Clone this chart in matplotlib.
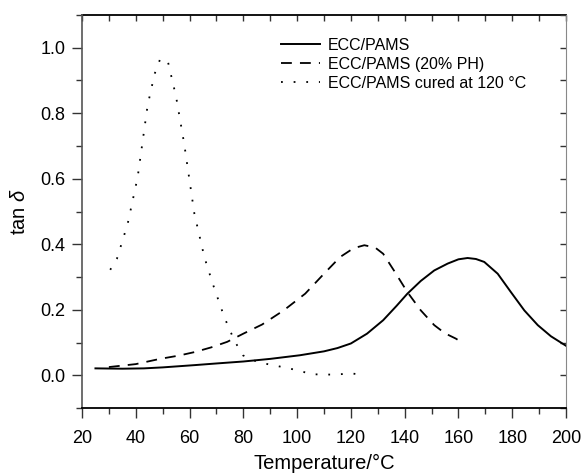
import matplotlib
matplotlib.use("Agg")
import matplotlib.pyplot as plt
from matplotlib.ticker import MultipleLocator, FormatStrFormatter

plt.rcParams['font.family'] = ['Liberation Sans', 'DejaVu Sans']
plt.rcParams['mathtext.fontset'] = 'custom'
plt.rcParams['mathtext.it'] = 'Liberation Sans:italic'
plt.rcParams['mathtext.rm'] = 'Liberation Sans'

# ECC/PAMS (solid)
t_solid = [25, 35, 43, 50, 62, 70, 80, 90, 101, 110, 115, 120, 126, 132, 137, 141, 146, 151, 156, 160, 163.4, 166.5, 169.6, 174.6, 179.5, 184.5, 189.5, 194.4, 200]
v_solid = [0.021, 0.020, 0.021, 0.024, 0.031, 0.036, 0.042, 0.050, 0.061, 0.073, 0.083, 0.097, 0.127, 0.168, 0.212, 0.249, 0.288, 0.320, 0.341, 0.354, 0.358, 0.355, 0.346, 0.310, 0.254, 0.198, 0.153, 0.119, 0.090]

# ECC/PAMS (20% PH) (dashed)
t_dash = [30, 40, 49, 56, 62, 68, 74, 80, 87, 95, 103, 110, 116, 121, 125, 129, 132, 136, 141, 146, 151, 155, 159, 160]
v_dash = [0.025, 0.034, 0.050, 0.060, 0.071, 0.085, 0.102, 0.127, 0.155, 0.198, 0.249, 0.310, 0.361, 0.388, 0.397, 0.390, 0.371, 0.320, 0.254, 0.198, 0.153, 0.128, 0.112, 0.107]

# ECC/PAMS cured at 120 °C (dotted)
t_dot = [30.5, 33, 37, 40.7, 44.4, 47, 49, 50.5, 52, 55, 58, 61.8, 65.5, 68.6, 72.9, 76.6, 79.8, 84, 87.8, 94.6, 101.4, 105, 112.6, 120.7, 125]
v_dot = [0.322, 0.356, 0.463, 0.605, 0.824, 0.92, 0.964, 0.967, 0.956, 0.85, 0.707, 0.493, 0.361, 0.28, 0.178, 0.107, 0.061, 0.045, 0.036, 0.025, 0.013, 0.003, 0.002, 0.005, 0.001]

labels = ['ECC/PAMS', 'ECC/PAMS (20% PH)', 'ECC/PAMS cured at 120 °C']

fig = plt.figure(figsize=(5.82, 4.73), dpi=100)
ax = fig.add_axes([82/582, 1-408/473, 484/582, 393/473])

ax.plot(t_solid, v_solid, color='black', lw=1.4, ls='-', label=labels[0])
ax.plot(t_dash, v_dash, color='black', lw=1.3, ls=(0, (6, 4.5)), label=labels[1])
ax.plot(t_dot, v_dot, color='black', lw=1.3, ls=(0, (1, 6)), label=labels[2])

ax.set_xlim(20, 200)
ax.set_ylim(-0.1, 1.1)
ax.xaxis.set_major_locator(MultipleLocator(20))
ax.xaxis.set_minor_locator(MultipleLocator(10))
ax.yaxis.set_major_locator(MultipleLocator(0.2))
ax.yaxis.set_minor_locator(MultipleLocator(0.1))
ax.yaxis.set_major_formatter(FormatStrFormatter('%.1f'))

ax.tick_params(axis='both', which='both', labelsize=13, color='#333333',
               top=False, right=False, direction='out')
ax.tick_params(axis='both', which='major', length=7, width=1.0, pad=5)
ax.tick_params(axis='x', which='major', pad=9)
ax.tick_params(axis='both', which='minor', length=4, width=1.0)

ax.spines['left'].set_color('#555555')
ax.spines['left'].set_linewidth(1.2)
ax.spines['bottom'].set_linewidth(1.3)
ax.spines['top'].set_visible(False)
ax.spines['right'].set_visible(False)

# top axis: inward ticks, no labels
sec_x = ax.secondary_xaxis('top')
sec_x.xaxis.set_major_locator(MultipleLocator(10))
sec_x.tick_params(axis='x', which='both', direction='in', length=4.5, width=1.0,
                  labeltop=False, color='#333333')
sec_x.spines['top'].set_linewidth(1.3)

# right axis: inward ticks, no labels
sec_y = ax.secondary_yaxis('right')
sec_y.yaxis.set_major_locator(MultipleLocator(0.1))
sec_y.tick_params(axis='y', which='both', direction='in', length=4.5, width=1.0,
                  labelright=False, color='#333333')
sec_y.spines['right'].set_color('#888888')
sec_y.spines['right'].set_linewidth(0.8)

ax.set_xlabel('Temperature/°C', fontsize=14.5, labelpad=5)
ax.set_ylabel(r'tan $\delta$', fontsize=14.5, labelpad=8)

leg = ax.legend(loc='upper left', bbox_to_anchor=(0.411, 0.942), frameon=False,
                fontsize=11.5, handlelength=2.45, handletextpad=0.5, labelspacing=0.25,
                borderaxespad=0, borderpad=0)

fig.savefig('out.png', dpi=100)
